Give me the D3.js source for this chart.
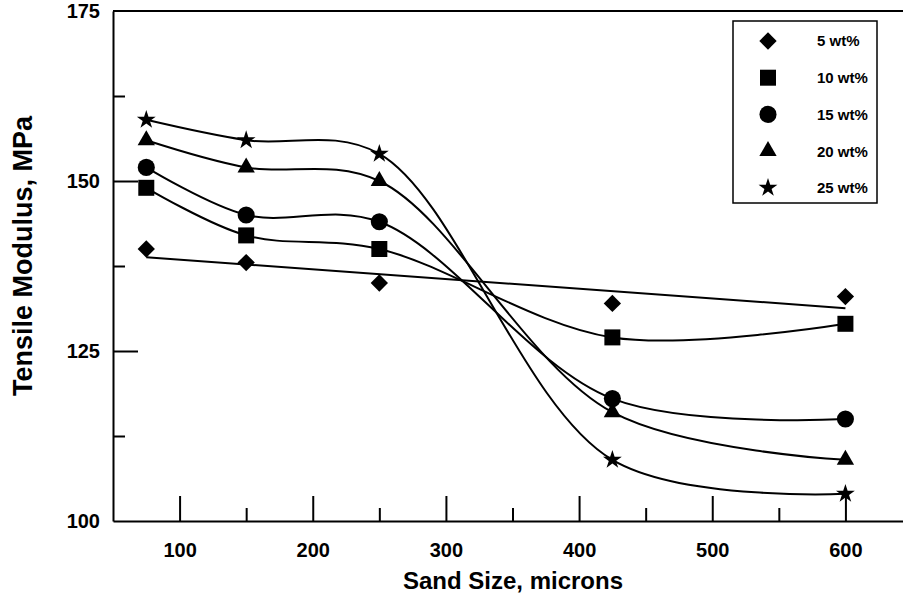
<!DOCTYPE html>
<html>
<head>
<meta charset="utf-8">
<script src="https://cdn.jsdelivr.net/npm/d3@7"></script>
<style>
  body { margin: 0; background: #fff; }
  svg { display: block; font-family: "Liberation Sans", Arial, sans-serif; font-weight: bold; }
  .axis path, .axis line { stroke: #000; stroke-width: 2; }
  .axis text { font-size: 20px; font-weight: bold; fill: #000; }
</style>
</head>
<body>
<script>
// sand size, microns
var sizes = [75, 150, 250, 425, 600];
var seriesNames = ["5 wt%", "10 wt%", "15 wt%", "20 wt%", "25 wt%"];
var wt5  = [140, 138, 135, 132, 133];
var wt10 = [149, 142, 140, 127, 129];
var wt15 = [152, 145, 144, 118, 115];
var wt20 = [156, 152, 150, 116, 109];
var wt25 = [159, 156, 154, 109, 104];
// the 5 wt% curve is a straight fit line
var fit5 = [[75, 138.8], [600, 131.3]];
var xMajor = [100, 200, 300, 400, 500, 600];
var xMinor = [150, 250, 350, 450, 550];
var yMajor = [100, 125, 150, 175];
var yMinor = [112.5, 137.5, 162.5];

var width = 903, height = 596;
var svg = d3.select("body").append("svg")
	.attr("width", width)
	.attr("height", height);

var x = d3.scaleLinear().domain([50, 650]).range([113, 912]);
var y = d3.scaleLinear().domain([100, 175]).range([521, 11]);

// frame
svg.append("line").attr("x1", x(50)).attr("x2", x(650)).attr("y1", y(175)).attr("y2", y(175))
	.attr("stroke", "#000").attr("stroke-width", 2);

var xAxis = svg.append("g").attr("class", "axis")
	.attr("transform", "translate(0," + y(100) + ")")
	.call(d3.axisBottom(x).tickValues(xMajor).tickSizeInner(-25).tickSizeOuter(0).tickPadding(22).tickFormat(d3.format("d")));
svg.append("g").attr("class", "axis")
	.attr("transform", "translate(0," + y(100) + ")")
	.call(d3.axisBottom(x).tickValues(xMinor).tickSizeInner(-13).tickSizeOuter(0).tickFormat(""))
	.select(".domain").remove();

svg.append("g").attr("class", "axis")
	.attr("transform", "translate(" + x(50) + ",0)")
	.call(d3.axisLeft(y).tickValues(yMajor).tickSizeInner(-25).tickSizeOuter(0).tickPadding(13).tickFormat(d3.format("d")))
	.selectAll(".tick line").filter(function(d) { return d == 100 || d == 175; }).remove();
svg.append("g").attr("class", "axis")
	.attr("transform", "translate(" + x(50) + ",0)")
	.call(d3.axisLeft(y).tickValues(yMinor).tickSizeInner(-12).tickSizeOuter(0).tickFormat(""))
	.select(".domain").remove();

svg.append("text")
	.attr("x", 513).attr("y", 589)
	.attr("text-anchor", "middle")
	.style("font-size", "24px")
	.text("Sand Size, microns");

svg.append("text")
	.attr("transform", "translate(32,256) rotate(-90)")
	.attr("text-anchor", "middle")
	.style("font-size", "27px")
	.text("Tensile Modulus, MPa");

// marker shapes
var diamond = { draw: function(ctx, size) {
	var r = Math.sqrt(size / 2);
	ctx.moveTo(0, -r); ctx.lineTo(r, 0); ctx.lineTo(0, r); ctx.lineTo(-r, 0); ctx.closePath();
}};
var shapes = [diamond, d3.symbolSquare, d3.symbolCircle, d3.symbolTriangle, d3.symbolStar];
var sizesArea = [150, 256, 230, 130, 110];

var allSeries = [wt5, wt10, wt15, wt20, wt25];

var line = d3.line()
	.x(function(d) { return x(d[0]); })
	.y(function(d) { return y(d[1]); })
	.curve(d3.curveCatmullRom.alpha(0.5));

svg.append("path")
	.attr("d", d3.line().x(function(d) { return x(d[0]); }).y(function(d) { return y(d[1]); })(fit5))
	.attr("fill", "none").attr("stroke", "#000").attr("stroke-width", 2);

allSeries.forEach(function(vals, si) {
	var pts = sizes.map(function(s, i) { return [s, vals[i]]; });
	if (si > 0) {
		svg.append("path")
			.attr("d", line(pts))
			.attr("fill", "none").attr("stroke", "#000").attr("stroke-width", 2);
	}
	svg.selectAll("path.m" + si)
		.data(pts)
		.enter().append("path")
		.attr("class", "m" + si)
		.attr("transform", function(d) { return "translate(" + x(d[0]) + "," + y(d[1]) + ")"; })
		.attr("d", d3.symbol().type(shapes[si]).size(sizesArea[si]))
		.attr("fill", "#000");
});

// legend
var legend = svg.append("g");
legend.append("rect")
	.attr("x", 733).attr("y", 21).attr("width", 144).attr("height", 182)
	.attr("fill", "#fff").attr("stroke", "#000").attr("stroke-width", 1.5);
var item = legend.selectAll("g.item")
	.data(seriesNames)
	.enter().append("g").attr("class", "item")
	.attr("transform", function(d, i) { return "translate(768," + (41 + i * 36.7) + ")"; });
item.append("path")
	.attr("d", function(d, i) { return d3.symbol().type(shapes[i]).size(sizesArea[i])(); })
	.attr("fill", "#000");
item.append("text")
	.attr("x", 49).attr("dy", "0.36em")
	.style("font-size", "15px")
	.text(function(d) { return d; });
</script>
</body>
</html>
